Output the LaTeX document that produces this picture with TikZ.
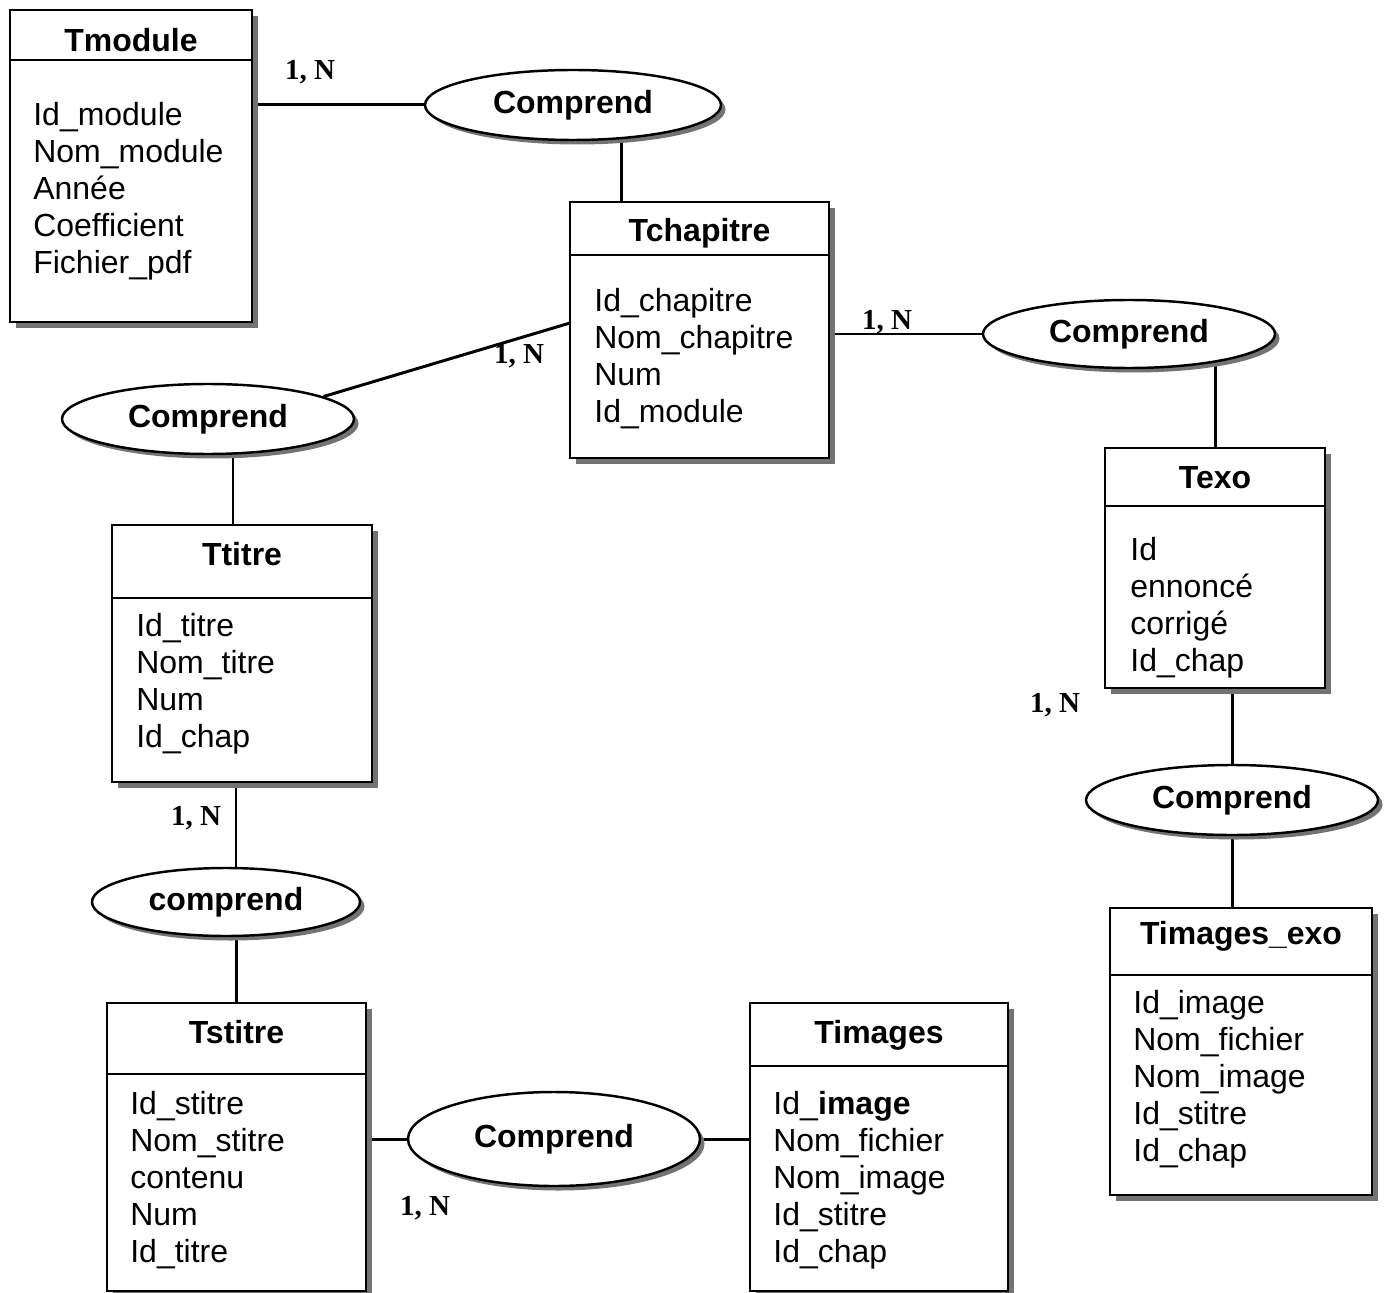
\documentclass[tikz,border=0pt]{standalone}
\usepackage{fontspec}
\setmainfont{Liberation Sans}
\newfontfamily\cardfont{Liberation Serif}
\usetikzlibrary{shapes.geometric,shadows,fit}
\pgfdeclarelayer{background}
\pgfsetlayers{background,main}
% one drawing unit
\newcommand\pxu{0.02cm}
% attribute lines of an entity: prefix, left x, first baseline, list
\newcommand\attrlist[4]{%
  \foreach \a [count=\i] in {#4}
    \node[attr] (#1-a\i) at (#2,{#3+37*(\i-1)}) {\a};}

\tikzset{
  ent/.style={draw, line width=1.6pt, fill=white, inner sep=0pt, outer sep=0pt,
    drop shadow={shadow xshift=0.12cm, shadow yshift=-0.12cm, fill=black!55, opacity=1}},
  rel/.style={ellipse, draw, line width=1.4pt, fill=white, inner sep=0pt,
    font=\fontsize{18.2}{21}\selectfont\bfseries,
    drop shadow={shadow xshift=0.09cm, shadow yshift=-0.09cm, fill=black!55, opacity=1}},
  sepline/.style={line width=1.6pt},
  title/.style={font=\fontsize{18.2}{21}\selectfont\bfseries, inner sep=0pt, anchor=base},
  attr/.style={font=\fontsize{18.2}{21}\selectfont, inner sep=0pt, anchor=base west},
  card/.style={font=\cardfont\fontsize{16.5}{19}\selectfont\bfseries, inner sep=0pt},
  link/.style={line width=1.7pt},
}

\begin{document}
\begin{tikzpicture}[x=0.02cm, y=-0.02cm]
\useasboundingbox (0,0) rectangle (1388,1293);

% ---------- entities ----------
% Tmodule
\node[ent, fit={(10,10) (252,322)}] (tmodule) {};
\draw[sepline] (tmodule.west |- 0,60) -- (tmodule.east |- 0,60);
\node[title] (tmodule-t) at (tmodule.center |- 0,52) {Tmodule};
\attrlist{tmodule}{33}{126}{Id\_module, Nom\_module, Année, Coefficient, Fichier\_pdf}

% Tchapitre
\node[ent, fit={(570,202) (829,458)}] (tchap) {};
\draw[sepline] (tchap.west |- 0,255) -- (tchap.east |- 0,255);
\node[title] (tchap-t) at (tchap.center |- 0,242) {Tchapitre};
\attrlist{tchap}{594}{312}{Id\_chapitre, Nom\_chapitre, Num, Id\_module}

% Texo
\node[ent, fit={(1105,448) (1325,688)}] (texo) {};
\draw[sepline] (texo.west |- 0,506) -- (texo.east |- 0,506);
\node[title] (texo-t) at (texo.center |- 0,488) {Texo};
\attrlist{texo}{1130}{560}{Id, ennoncé, corrigé, Id\_chap}

% Ttitre
\node[ent, fit={(112,525) (372,782)}] (ttitre) {};
\draw[sepline] (ttitre.west |- 0,598) -- (ttitre.east |- 0,598);
\node[title] (ttitre-t) at (ttitre.center |- 0,565) {Ttitre};
\attrlist{ttitre}{136}{636}{Id\_titre, Nom\_titre, Num, Id\_chap}

% Tstitre
\node[ent, fit={(107,1003) (366,1291)}] (tstitre) {};
\draw[sepline] (tstitre.west |- 0,1074) -- (tstitre.east |- 0,1074);
\node[title] (tstitre-t) at (tstitre.center |- 0,1043) {Tstitre};
\attrlist{tstitre}{130}{1114}{Id\_stitre, Nom\_stitre, contenu, Num, Id\_titre}

% Timages
\node[ent, fit={(750,1003) (1008,1291)}] (timages) {};
\draw[sepline] (timages.west |- 0,1066) -- (timages.east |- 0,1066);
\node[title] (timages-t) at (timages.center |- 0,1043) {Timages};
\attrlist{timages}{773}{1114}{Id\_\textbf{image}, Nom\_fichier, Nom\_image, Id\_stitre, Id\_chap}

% Timages_exo
\node[ent, fit={(1110,908) (1372,1195)}] (timgexo) {};
\draw[sepline] (timgexo.west |- 0,975) -- (timgexo.east |- 0,975);
\node[title] (timgexo-t) at (timgexo.center |- 0,944) {Timages\_exo};
\attrlist{timgexo}{1133}{1013}{Id\_image, Nom\_fichier, Nom\_image, Id\_stitre, Id\_chap}

% ---------- relationships ----------
\node[rel, minimum width=296*\pxu, minimum height=70*\pxu] (r1) at (573,105) {Comprend};
\node[rel, minimum width=292*\pxu, minimum height=68*\pxu] (r2) at (1129,334) {Comprend};
\node[rel, minimum width=292*\pxu, minimum height=70*\pxu] (r3) at (208,419) {Comprend};
\node[rel, minimum width=292*\pxu, minimum height=70*\pxu] (r4) at (1232,800) {Comprend};
\node[rel, minimum width=268*\pxu, minimum height=68*\pxu] (r5) at (226,902) {comprend};
\node[rel, minimum width=292*\pxu, minimum height=94*\pxu] (r6) at (554,1139) {Comprend};

% ---------- cardinalities ----------
\node[card] (c1) at (310,72) {1, N};
\node[card] (c2) at (519,356) {1, N};
\node[card] (c3) at (887,322) {1, N};
\node[card] (c4) at (1055,705) {1, N};
\node[card] (c5) at (196,818) {1, N};
\node[card] (c6) at (425,1208) {1, N};

% ---------- connectors ----------
\coordinate (k1) at (621,0);
\coordinate (k2) at (0,323);
\coordinate (k3) at (233,0);
\coordinate (k4) at (236,0);
\begin{pgfonlayer}{background}
  \draw[link] (r1) -- (r1 -| tmodule.east);
  \draw[link] (r1 -| k1) -- (tchap.north -| k1);
  \draw[link] (r2) -- (r2 -| tchap.east);
  \draw[link] (r2 -| texo.north) -- (texo.north);
  \draw[link] (tchap.west |- k2) -- (r3.11);
  \draw[link] (r3 -| k3) -- (ttitre.north -| k3);
  \draw[link] (ttitre.south -| k4) -- (r5 -| k4);
  \draw[link] (r5 -| tstitre.north) -- (tstitre.north);
  \draw[link] (r4) -- (r4 |- texo.south);
  \draw[link] (r4) -- (r4 |- timgexo.north);
  \draw[link] (r6) -- (r6 -| tstitre.east);
  \draw[link] (r6) -- (r6 -| timages.west);
\end{pgfonlayer}
\end{tikzpicture}
\end{document}
